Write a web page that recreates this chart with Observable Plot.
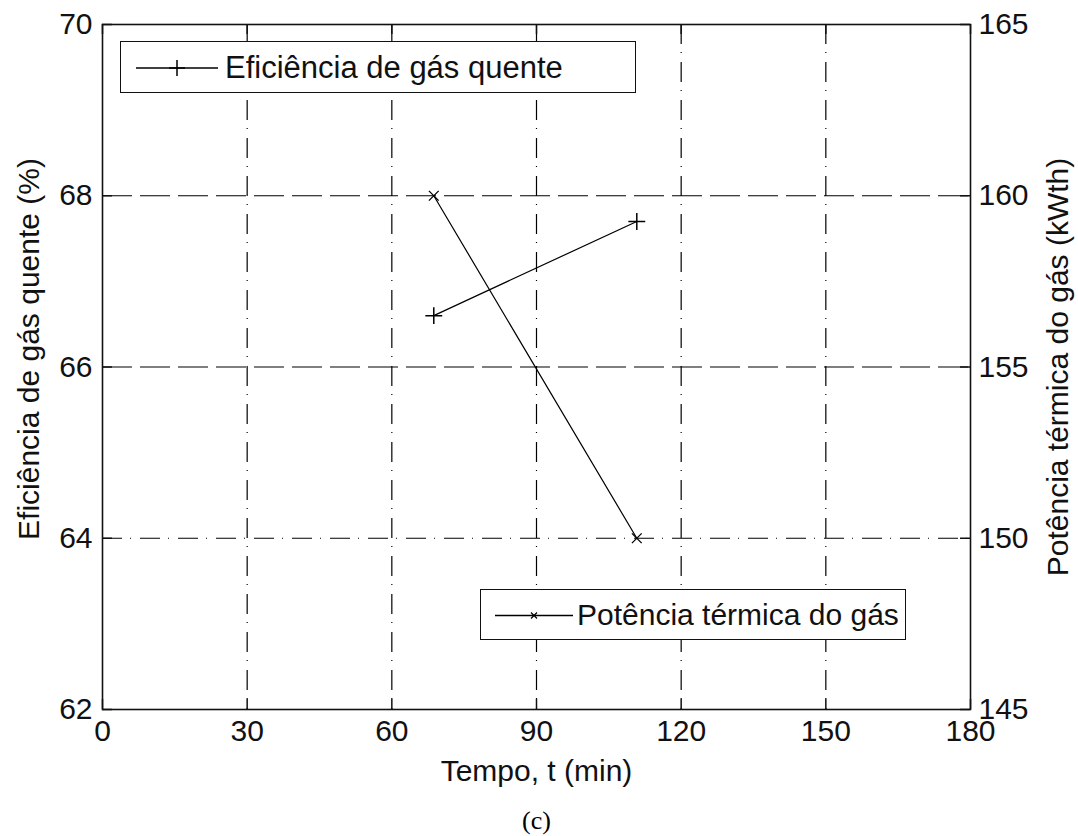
<!DOCTYPE html>
<html>
<head>
<meta charset="utf-8">
<script src="https://cdn.jsdelivr.net/npm/d3@7"></script>
<script src="https://cdn.jsdelivr.net/npm/@observablehq/plot@0.6"></script>
<style>
  html, body { margin: 0; padding: 0; background: #fff; }
  #wrap { position: relative; width: 1078px; height: 836px; font-family: "Liberation Sans", Arial, sans-serif; }
  .legend { position: absolute; background: #fff; border: 1.5px solid #111; box-sizing: border-box; }
  .legend svg { position: absolute; left: 0; top: 0; }
  .legend span { position: absolute; line-height: 1; color: #111; white-space: nowrap; }
</style>
</head>
<body>
<div id="wrap"></div>
<script>
// ---- data ----
const time = [68.7, 110.8];              // Tempo, t (min)
const efficiency = [66.6, 67.7];         // Eficiência de gás quente (%)
const power = [160.0, 150.0];            // Potência térmica do gás (kWth)
const xTicks = [0, 30, 60, 90, 120, 150, 180];
const leftTicks = [62, 64, 66, 68, 70];
const rightTicks = [145, 150, 155, 160, 165];
const xGridLines = [30, 60, 90, 120, 150];
const yDashDotLines = [64];
const yDashedLines = [66, 68];

const leftDomain = [62, 70];
const rightDomain = [145, 165];
const toLeft = p => leftDomain[0] + (p - rightDomain[0]) * (leftDomain[1] - leftDomain[0]) / (rightDomain[1] - rightDomain[0]);
const toRight = v => rightDomain[0] + (v - leftDomain[0]) * (rightDomain[1] - rightDomain[0]) / (leftDomain[1] - leftDomain[0]);

const effData = time.map((t, i) => ({t, v: efficiency[i]}));
const powData = time.map((t, i) => ({t, v: toLeft(power[i])}));

// ---- layout ----
const W = 1078, H = 836;
const mL = 102, mR = 108, mT = 24, mB = 127;
const frameW = W - mL - mR, frameH = H - mT - mB;
const tickLen = 10;
const font = "Liberation Sans, Arial, sans-serif";
const dashDot = "20,8,1,9";
const dashed = "30,8";

const chart = Plot.plot({
  width: W, height: H,
  marginLeft: mL, marginRight: mR, marginTop: mT, marginBottom: mB,
  style: {fontFamily: font, fontSize: "30px", color: "#111", background: "white"},
  x: {domain: [0, 180], ticks: xTicks},
  y: {domain: leftDomain, ticks: leftTicks},
  marks: [
    Plot.gridX(xGridLines, {stroke: "#000", strokeOpacity: 1, strokeWidth: 1.2, strokeDasharray: dashDot}),
    Plot.gridY(yDashDotLines, {stroke: "#000", strokeOpacity: 1, strokeWidth: 1.2, strokeDasharray: dashDot}),
    Plot.gridY(yDashedLines, {stroke: "#000", strokeOpacity: 1, strokeWidth: 1.2, strokeDasharray: dashed}),
    // inward ticks
    Plot.tickX(xTicks, {x: d => d, insetTop: frameH - tickLen, stroke: "#111", strokeWidth: 1.5}),
    Plot.tickX(xTicks, {x: d => d, insetBottom: frameH - tickLen, stroke: "#111", strokeWidth: 1.5}),
    Plot.tickY(leftTicks, {y: d => d, insetRight: frameW - tickLen, stroke: "#111", strokeWidth: 1.5}),
    Plot.tickY(rightTicks.map(toLeft), {y: d => d, insetLeft: frameW - tickLen, stroke: "#111", strokeWidth: 1.5}),
    Plot.axisX(xTicks, {anchor: "bottom", tickSize: 0, tickPadding: 10, label: null, fontSize: 30, fill: "#111", tickFormat: d => String(d)}),
    Plot.axisY(leftTicks, {anchor: "left", tickSize: 0, tickPadding: 10, label: null, fontSize: 30, fill: "#111", tickFormat: d => String(d)}),
    Plot.axisY(rightTicks.map(toLeft), {anchor: "right", tickSize: 0, tickPadding: 8, label: null, fontSize: 30, fill: "#111",
      tickFormat: d => String(Math.round(toRight(d)))}),
    // data
    Plot.line(effData, {x: "t", y: "v", stroke: "#000", strokeWidth: 1.2}),
    Plot.dot(effData, {x: "t", y: "v", symbol: "plus", r: 5.5, stroke: "#000", strokeWidth: 1.5}),
    Plot.line(powData, {x: "t", y: "v", stroke: "#000", strokeWidth: 1.2}),
    Plot.dot(powData, {x: "t", y: "v", symbol: "times", r: 4.5, stroke: "#000", strokeWidth: 1.3}),
    Plot.frame({stroke: "#111", strokeWidth: 1.6}),
    // axis titles
    Plot.text(["Tempo, t (min)"], {frameAnchor: "bottom", dy: 62, fontSize: 30, fill: "#111", lineAnchor: "middle", textAnchor: "middle"}),
    Plot.text(["Eficiência de gás quente (%)"], {frameAnchor: "left", dx: -73, dy: -18, rotate: -90, fontSize: 30, fill: "#111", lineAnchor: "middle", textAnchor: "middle"}),
    Plot.text(["Potência térmica do gás (kWth)"], {frameAnchor: "right", dx: 88, rotate: -90, fontSize: 30, fill: "#111", lineAnchor: "middle", textAnchor: "middle"}),
    Plot.text(["(c)"], {frameAnchor: "bottom", dy: 111, fontSize: 26, fontFamily: "Liberation Serif, Times New Roman, serif", fill: "#000", lineAnchor: "middle", textAnchor: "middle"})
  ]
});

const wrap = document.getElementById("wrap");
wrap.appendChild(chart);

// legends (overlaid inside the axes, as in the reference)
function legend(left, top, width, height, label, symbol, lineX0, lineX1, markX, textX, markSize, fontSize) {
  const div = document.createElement("div");
  div.className = "legend";
  Object.assign(div.style, {left: left + "px", top: top + "px", width: width + "px", height: height + "px"});
  const cy = height / 2;
  const svg = d3.create("svg").attr("width", width).attr("height", height);
  svg.append("line").attr("x1", lineX0).attr("x2", lineX1).attr("y1", cy).attr("y2", cy)
    .attr("stroke", "#000").attr("stroke-width", 1.3);
  const s = markSize;
  if (symbol === "plus") {
    svg.append("path").attr("d", `M${markX - s},${cy}H${markX + s}M${markX},${cy - s}V${cy + s}`)
      .attr("stroke", "#000").attr("stroke-width", 1.5).attr("fill", "none");
  } else {
    svg.append("path").attr("d", `M${markX - s},${cy - s}L${markX + s},${cy + s}M${markX - s},${cy + s}L${markX + s},${cy - s}`)
      .attr("stroke", "#000").attr("stroke-width", 1.2).attr("fill", "none");
  }
  div.appendChild(svg.node());
  const span = document.createElement("span");
  span.textContent = label;
  span.style.fontSize = fontSize + "px";
  span.style.left = textX + "px";
  span.style.top = (cy - fontSize * 0.53) + "px";
  div.appendChild(span);
  wrap.appendChild(div);
}
legend(120, 41, 516, 52, "Eficiência de gás quente", "plus", 15, 97, 56, 104, 8, 31);
legend(480, 589, 426, 51, "Potência térmica do gás", "times", 14, 92, 53, 96, 3, 30);
</script>
</body>
</html>
